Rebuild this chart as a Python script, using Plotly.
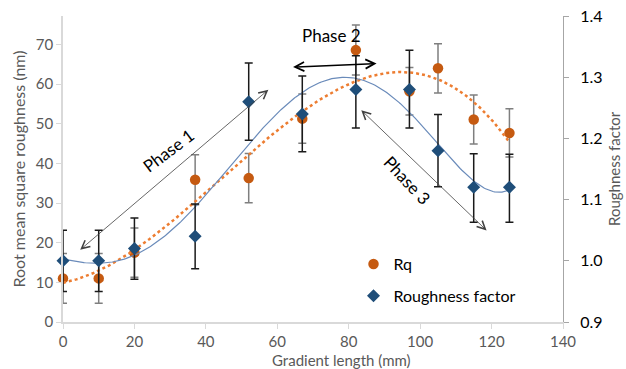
import numpy as np
import plotly.graph_objects as go

# Measurements along the gradient
gradient_mm = [0, 10, 20, 37, 52, 67, 82, 97, 105, 115, 125]
rq_nm = [11.0, 11.0, 17.5, 35.9, 36.3, 51.3, 68.6, 58.2, 64.0, 51.1, 47.7]
rq_err = [6.3, 6.3, 6.2, 6.3, 6.2, 6.2, 6.3, 6.0, 6.2, 6.2, 6.1]
rough_factor = [1.00, 1.00, 1.02, 1.04, 1.26, 1.24, 1.28, 1.28, 1.18, 1.12, 1.12]
rf_err_plus = [0.050, 0.050, 0.050, 0.053, 0.063, 0.062, 0.055, 0.064, 0.059, 0.055, 0.054]
rf_err_minus = [0.050, 0.050, 0.050, 0.053, 0.063, 0.062, 0.063, 0.063, 0.059, 0.057, 0.057]

x_ticks = [0, 20, 40, 60, 80, 100, 120, 140]
y_ticks = [0, 10, 20, 30, 40, 50, 60, 70]
y2_ticks = [0.9, 1.0, 1.1, 1.2, 1.3, 1.4]

FONT = "Lato"
ORANGE = "#C55A11"
ORANGE_LINE = "#ED7D31"
BLUE = "#1F4E79"
BLUE_LINE = "#6A8BBA"

# Polynomial trendlines: 3rd order for Rq, 5th order for roughness factor
xf = np.linspace(min(gradient_mm), max(gradient_mm), 300)
rq_trend = np.polyval(np.polyfit(gradient_mm, rq_nm, 3), xf)
rf_trend = np.polyval(np.polyfit(gradient_mm, rough_factor, 5), xf)

fig = go.Figure()

fig.add_trace(go.Scatter(
    x=gradient_mm, y=rq_nm, mode="markers", name="Rq",
    marker=dict(symbol="circle", size=10.5, color=ORANGE),
    error_y=dict(type="data", array=rq_err, color="#7F7F7F", thickness=1.5, width=4),
    cliponaxis=False, legendgroup="a",
))
fig.add_trace(go.Scatter(
    x=xf, y=rq_trend, mode="lines", showlegend=False, hoverinfo="skip",
    line=dict(color=ORANGE_LINE, width=2.5, dash="dot"),
))
fig.add_trace(go.Scatter(
    x=xf, y=rf_trend, mode="lines", showlegend=False, hoverinfo="skip",
    line=dict(color=BLUE_LINE, width=1.2), yaxis="y2",
))
fig.add_trace(go.Scatter(
    x=gradient_mm, y=rough_factor, mode="markers", name="Roughness factor",
    marker=dict(symbol="diamond", size=10, color=BLUE),
    error_y=dict(type="data", symmetric=False, array=rf_err_plus,
                 arrayminus=rf_err_minus, color="#1A1A1A", thickness=1.5, width=4),
    cliponaxis=False, yaxis="y2", legendgroup="b",
))

# Phase arrows (double headed) and their labels
arrows = [
    dict(x0=4.4, y0=17.9, x1=57.5, y1=58.6, color="#404040", width=0.8, size=2.0),
    dict(x0=64.0, y0=64.3, x1=87.8, y1=65.2, color="#000000", width=1.5, size=1.2),
    dict(x0=83.1, y0=53.8, x1=118.6, y1=23.1, color="#404040", width=0.8, size=2.0),
]
annotations = []
for a in arrows:
    annotations.append(dict(
        x=a["x1"], y=a["y1"], ax=a["x0"], ay=a["y0"],
        xref="x", yref="y", axref="x", ayref="y", text="",
        showarrow=True, arrowhead=5, startarrowhead=5, arrowside="end+start",
        arrowsize=a["size"], startarrowsize=a["size"], arrowwidth=a["width"],
        arrowcolor=a["color"], standoff=0, startstandoff=0,
    ))

labels = [
    dict(text="Phase 1", x=29.5, y=43.3, angle=-37),
    dict(text="Phase 2", x=75.2, y=72.2, angle=0),
    dict(text="Phase 3", x=96.5, y=35.8, angle=47),
]
for lb in labels:
    annotations.append(dict(
        text=lb["text"], x=lb["x"], y=lb["y"], xref="x", yref="y",
        showarrow=False, textangle=lb["angle"],
        font=dict(family=FONT, size=17, color="#000000"),
    ))

# Axis titles placed in paper coordinates
annotations.append(dict(
    text="Gradient length (mm)", x=0.556, y=-0.123, xref="paper", yref="paper",
    showarrow=False, xanchor="center", yanchor="middle",
    font=dict(family=FONT, size=15, color="#595959"),
))
annotations.append(dict(
    text="Roughness factor", x=1.102, y=0.5, xref="paper", yref="paper",
    showarrow=False, xanchor="center", yanchor="middle", textangle=-90,
    font=dict(family=FONT, size=15, color="#595959"),
))

fig.update_layout(
    width=626, height=369,
    margin=dict(l=63, r=63, t=16, b=47),
    paper_bgcolor="white", plot_bgcolor="white",
    font=dict(family=FONT, size=15, color="#595959"),
    showlegend=True,
    legend=dict(x=0.581, y=0.245, xanchor="left", yanchor="top",
                font=dict(family=FONT, size=16, color="#000000"),
                bgcolor="rgba(0,0,0,0)", tracegroupgap=8),
    annotations=annotations,
    xaxis=dict(range=[0, 140], tickvals=x_ticks, showgrid=False, zeroline=False,
               showline=True, linecolor="#D9D9D9", linewidth=1.5, automargin=False,
               ticks="outside", ticklen=5, tickcolor="#D9D9D9",
               tickfont=dict(family=FONT, size=15, color="#595959")),
    yaxis=dict(range=[0, 77.2], tickvals=y_ticks, showgrid=False, zeroline=False,
               showline=True, linecolor="#D9D9D9", linewidth=1.5, automargin=False,
               ticks="outside", ticklen=5, tickcolor="#D9D9D9",
               tickfont=dict(family=FONT, size=15, color="#595959"),
               title=dict(text="Root mean square roughness (nm)", standoff=6,
                          font=dict(family=FONT, size=16, color="#595959"))),
    yaxis2=dict(range=[0.9, 1.4], tickvals=y2_ticks, tickformat=".1f",
                overlaying="y", side="right", showgrid=False, zeroline=False,
                showline=True, linecolor="#A6A6A6", linewidth=1, automargin=False,
                ticks="outside", ticklen=5, tickcolor="#A6A6A6",
                ticklabelstandoff=8,
                tickfont=dict(family=FONT, size=16, color="#000000")),
)

fig.write_html("out.html")
